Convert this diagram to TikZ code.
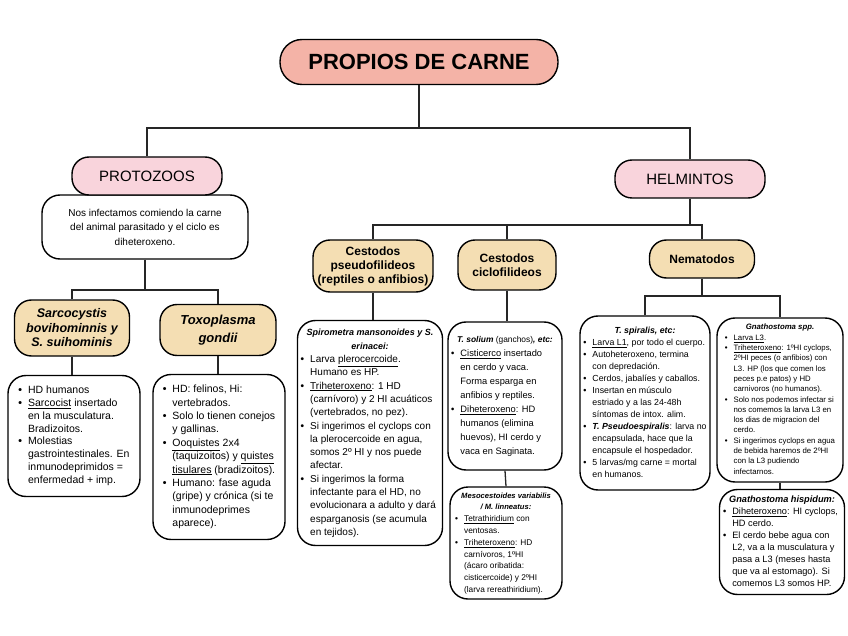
\documentclass[tikz,border=0pt]{standalone}
\usepackage{fontspec}
\setmainfont{Liberation Sans}
\usetikzlibrary{calc}
\definecolor{salmonc}{HTML}{F4B3A7}
\definecolor{pinkc}{HTML}{F9D4DC}
\definecolor{tanc}{HTML}{F4DEB3}
\newcommand{\bu}{\textbf{\textbullet}}
\newcommand{\mylist}[1]{\begin{tabular}{@{}l@{\hspace{6pt}}l@{}}#1\end{tabular}}
\newcommand{\bi}[1]{\textbf{\textit{#1}}}
\newcommand{\ul}[1]{\underline{#1}}
\tikzset{
  basebox/.style={draw=black, line width=1.4pt, inner sep=2pt},
  titlebox/.style={basebox, fill=salmonc, rounded corners=22pt, font=\fontsize{22}{26}\selectfont\bfseries},
  groupbox/.style={basebox, fill=pinkc, rounded corners=17pt, font=\fontsize{15}{18}\selectfont},
  catbox/.style={basebox, fill=tanc, rounded corners=17pt, align=center, font=\fontsize{12}{14}\selectfont\bfseries},
  listbox/.style={basebox, fill=white, rounded corners=18pt},
  conn/.style={line width=1.3pt, draw=black!85},
}
\begin{document}
\begin{tikzpicture}[x=1pt,y=-1pt]
\fill[white] (0,0) rectangle (848,636);
\useasboundingbox (0,0) rectangle (848,636);
\coordinate (busA) at (0,128);
\coordinate (busB) at (0,290);
\coordinate (busC) at (0,225);
\coordinate (busD) at (0,296);

% top
\node[titlebox, minimum width=278, minimum height=45] (title) at (419,62) {PROPIOS DE CARNE};

% protozoos branch
\node[listbox, minimum width=206, minimum height=64, align=center, font=\fontsize{10}{14.5}\selectfont] (pdesc) at (145,227)
  {Nos infectamos comiendo la carne\\del animal parasitado y el ciclo es\\diheteroxeno.};
\node[groupbox, minimum width=150, minimum height=38] (prot) at (147,176) {PROTOZOOS};
\node[groupbox, minimum width=150, minimum height=38] (helm) at (690,179) {HELMINTOS};

\node[catbox, minimum width=115, minimum height=56, font=\fontsize{12.5}{14.5}\selectfont\bfseries\itshape] (sarc) at (72,328)
  {Sarcocystis\\bovihominnis y\\S. suihominis};
\node[catbox, minimum width=116, minimum height=51, font=\fontsize{13}{18}\selectfont\bfseries\itshape] (toxo) at (218,330)
  {Toxoplasma\\gondii};

\node[listbox, minimum width=132, minimum height=121, font=\fontsize{10.5}{12.8}\selectfont] (sarl) at (74,436)
  {\mylist{\bu & HD humanos\\
   \bu & \ul{Sarcocist} insertado\\
       & en la musculatura.\\
       & Bradizoitos.\\
   \bu & Molestias\\
       & gastrointestinales. En\\
       & inmunodeprimidos =\\
       & enfermedad + imp.}};
\node[listbox, minimum width=132, minimum height=165, font=\fontsize{10.5}{13.3}\selectfont] (toxl) at (219,457)
  {\mylist{\bu & HD: felinos, Hi:\\
       & vertebrados.\\
   \bu & Solo lo tienen conejos\\
       & y gallinas.\\
   \bu & \ul{Ooquistes} 2x4\\
       & (taquizoitos) y \ul{quistes}\\
       & \ul{tisulares} (bradizoitos).\\
   \bu & Humano: fase aguda\\
       & (gripe) y crónica (si te\\
       & inmunodeprimes\\
       & aparece).}};

% helmintos branch
\node[catbox, minimum width=120, minimum height=52] (pseu) at (373,266)
  {Cestodos\\pseudofilideos\\(reptiles o anfibios)};
\node[catbox, minimum width=98, minimum height=50] (cicl) at (507,265)
  {Cestodos\\ciclofilideos};
\node[catbox, minimum width=105, minimum height=38] (nema) at (702,259)
  {Nematodos};

\node[listbox, minimum width=145, minimum height=225, font=\fontsize{10}{13.3}\selectfont] (spir) at (370,433)
  {\mylist{\multicolumn{2}{c}{\fontsize{9}{11}\selectfont\bi{Spirometra mansonoides y S.}}\\
   \multicolumn{2}{c}{\fontsize{9}{11}\selectfont\bi{erinacei:}}\\
   \bu & Larva \ul{plerocercoide}.\\
       & Humano es HP.\\
   \bu & \ul{Triheteroxeno}: 1 HD\\
       & (carnívoro) y 2 HI acuáticos\\
       & (vertebrados, no pez).\\
   \bu & Si ingerimos el cyclops con\\
       & la plerocercoide en agua,\\
       & somos 2º HI y nos puede\\
       & afectar.\\
   \bu & Si ingerimos la forma\\
       & infectante para el HD, no\\
       & evolucionara a adulto y dará\\
       & esparganosis (se acumula\\
       & en tejidos).}};

\node[listbox, minimum width=114, minimum height=148, font=\fontsize{9.3}{14}\selectfont] (tsol) at (505,396)
  {\mylist{\multicolumn{2}{l}{\fontsize{8.4}{14}\selectfont\bi{T. solium} (ganchos)\bi{, etc:}}\\
   \bu & \ul{Cisticerco} insertado\\
       & en cerdo y vaca.\\
       & Forma esparga en\\
       & anfibios y reptiles.\\
   \bu & \ul{Diheteroxeno}: HD\\
       & humanos (elimina\\
       & huevos), HI cerdo y\\
       & vaca en Saginata.}};

\node[listbox, minimum width=112, minimum height=112, font=\fontsize{8.3}{11.8}\selectfont] (meso) at (506,543)
  {\mylist{\multicolumn{2}{c}{\fontsize{7.6}{11.8}\selectfont\bi{Mesocestoides variabilis}}\\
   \multicolumn{2}{c}{\fontsize{7.6}{11.8}\selectfont\bi{/ M. linneatus:}}\\
   \bu & \ul{Tetrathiridium} con\\
       & ventosas.\\
   \bu & \ul{Triheteroxeno}: HD\\
       & carnívoros, 1ºHI\\
       & (ácaro oribatida:\\
       & cisticercoide) y 2ºHI\\
       & (larva rereathiridium).}};

\node[listbox, minimum width=130, minimum height=174, font=\fontsize{8.8}{12}\selectfont] (tspi) at (645,403)
  {\mylist{\multicolumn{2}{c}{\bi{T. spiralis, etc:}}\\
   \bu & \ul{Larva L1}, por todo el cuerpo.\\
   \bu & Autoheteroxeno, termina\\
       & con depredación.\\
   \bu & Cerdos, jabalíes y caballos.\\
   \bu & Insertan en músculo\\
       & estriado y a las 24-48h\\
       & síntomas de intox. alim.\\
   \bu & \bi{T. Pseudoespiralis}: larva no\\
       & encapsulada, hace que la\\
       & encapsule el hospedador.\\
   \bu & 5 larvas/mg carne = mortal\\
       & en humanos.}};

\node[listbox, minimum width=126, minimum height=164, font=\fontsize{7.8}{10.3}\selectfont] (gspp) at (780,400)
  {\mylist{\multicolumn{2}{c}{\bi{Gnathostoma spp.}}\\
   \bu & \ul{Larva L3}.\\
   \bu & \ul{Triheteroxeno}: 1ºHI cyclops,\\
       & 2ºHI peces (o anfibios) con\\
       & L3. HP (los que comen los\\
       & peces p.e patos) y HD\\
       & carnivoros (no humanos).\\
   \bu & Solo nos podemos infectar si\\
       & nos comemos la larva L3 en\\
       & los dias de migracion del\\
       & cerdo.\\
   \bu & Si ingerimos cyclops en agua\\
       & de bebida haremos de 2ºHI\\
       & con la L3 pudiendo\\
       & infectarnos.}};

\node[listbox, minimum width=125, minimum height=105, font=\fontsize{9.2}{12}\selectfont] (ghis) at (782,542)
  {\mylist{\multicolumn{2}{c}{\bi{Gnathostoma hispidum:}}\\
   \bu & \ul{Diheteroxeno}: HI cyclops,\\
       & HD cerdo.\\
   \bu & El cerdo bebe agua con\\
       & L2, va a la musculatura y\\
       & pasa a L3 (meses hasta\\
       & que va al estomago). Si\\
       & comemos L3 somos HP.}};

% connectors
\draw[conn] (title.south) -- (title.south |- busA);
\draw[conn] (prot.north) |- (helm.north |- busA) -- (helm.north);
\draw[conn] (pdesc.south) -- (pdesc.south |- busB);
\draw[conn] (sarc.north) |- (toxo.north |- busB) -- (toxo.north);
\draw[conn] (sarc.south) -- (sarl.north -| sarc.south);
\draw[conn] (toxo.south) -- (toxl.north -| toxo.south);
\draw[conn] (helm.south) -- (helm.south |- busC);
\draw[conn] (pseu.north) |- (nema.north |- busC) -- (nema.north);
\draw[conn] (cicl.north) -- (cicl.north |- busC);
\draw[conn] (pseu.south) -- (spir.north -| pseu.south);
\draw[conn] (cicl.south) -- (tsol.north -| cicl.south);
\draw[conn] (tsol.south) -- (meso.north);
\draw[conn] (nema.south) -- (nema.south |- busD);
\draw[conn] (tspi.north) |- (gspp.north |- busD) -- (gspp.north);
\draw[conn] (gspp.south) -- (ghis.north -| gspp.south);
\end{tikzpicture}
\end{document}
